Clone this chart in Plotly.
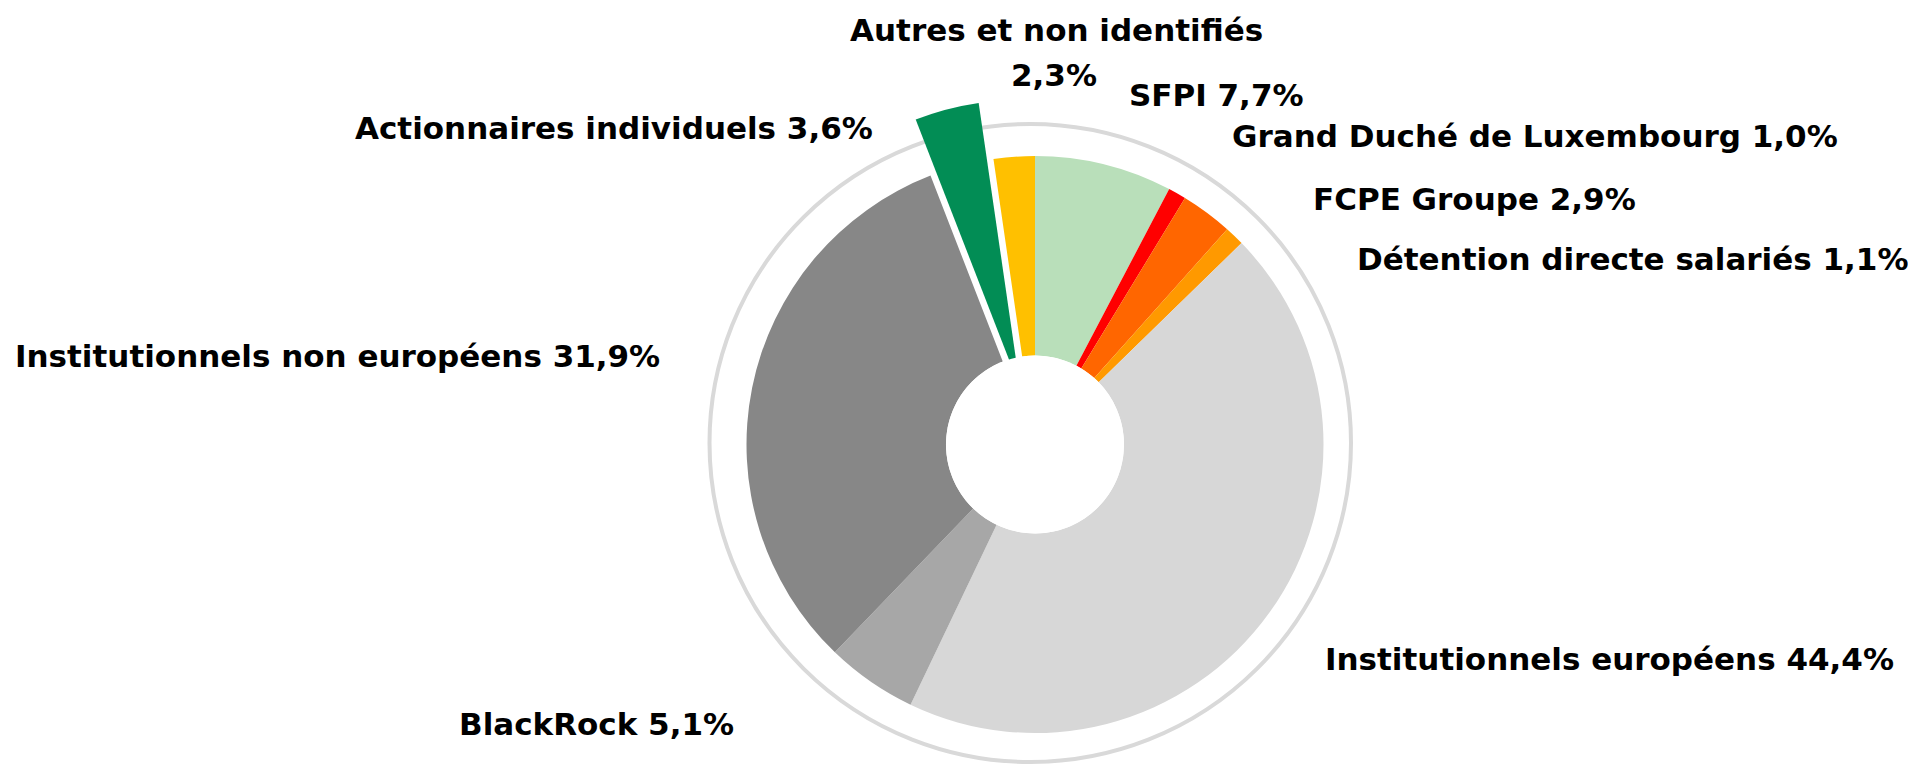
import numpy as np
import plotly.graph_objects as go

# ---------------- data ----------------
categories = [
    "SFPI",
    "Grand Duché de Luxembourg",
    "FCPE Groupe",
    "Détention directe salariés",
    "Institutionnels européens",
    "BlackRock",
    "Institutionnels non européens",
    "Actionnaires individuels",
    "Autres et non identifiés",
]
values = [7.7, 1.0, 2.9, 1.1, 44.4, 5.1, 31.9, 3.6, 2.3]
colors = ["#b9dfba", "#ff0000", "#ff6600", "#ff9900", "#d7d7d7",
          "#a7a7a7", "#878787", "#028d55", "#ffc000"]
pulled_category = "Actionnaires individuels"

# ---------------- layout geometry (page pixels) ----------------
OFF = 8                                 # default body margin of the html page
W, H = 1916 - OFF, 764 - OFF
CX, CY, R = 1035.0, 444.5, 288.5        # pie centre / radius
HOLE_R = 89.0
PULL_PX = 58.0
RING = (709.5, 124, 1351, 762)          # x0, y0, x1, y1 of outer grey ring

# label anchor positions (centre x, centre y in page px)
label_pos = {
    "SFPI": (1216.5, 95.5),
    "Grand Duché de Luxembourg": (1534.5, 136),
    "FCPE Groupe": (1474, 198.5),
    "Détention directe salariés": (1632.5, 259),
    "Institutionnels européens": (1609, 659),
    "BlackRock": (596, 724),
    "Institutionnels non européens": (337, 356),
    "Actionnaires individuels": (613.5, 128),
}
autres_pos = ((1056, 29.5), (1054, 75.3))


def px(x, y):
    return (x - OFF) / W, 1 - (y - OFF) / H


def fmt(v):
    return f"{v:.1f}".replace(".", ",") + "%"


def domain_at(cx, cy, r):
    x0, y1 = px(cx - r, cy - r)
    x1, y0 = px(cx + r, cy + r)
    return dict(x=[x0, x1], y=[y0, y1])


pidx = categories.index(pulled_category)
total = float(np.sum(values))
mid_frac = (np.sum(values[:pidx]) + values[pidx] / 2) / total
ang = 2 * np.pi * mid_frac          # clockwise from 12 o'clock
dx = PULL_PX * np.sin(ang)
dy = -PULL_PX * np.cos(ang)

main_colors = [c if i != pidx else "rgba(0,0,0,0)" for i, c in enumerate(colors)]
pull_colors = [c if i == pidx else "rgba(0,0,0,0)" for i, c in enumerate(colors)]

fig = go.Figure()
fig.add_trace(go.Pie(
    labels=categories, values=values, sort=False, direction="clockwise",
    rotation=0, hole=HOLE_R / R, marker=dict(colors=main_colors, line=dict(width=0)),
    textinfo="none", hoverinfo="label+value", showlegend=False,
    domain=domain_at(CX, CY, R),
))
fig.add_trace(go.Pie(
    labels=categories, values=values, sort=False, direction="clockwise",
    rotation=0, hole=0, marker=dict(colors=pull_colors, line=dict(width=0)),
    textinfo="none", hoverinfo="skip", showlegend=False,
    domain=domain_at(CX + dx, CY + dy, R),
))

# outer ring and hole mask
rx0, ry1 = px(RING[0], RING[1])
rx1, ry0 = px(RING[2], RING[3])
hx0, hy1 = px(CX - HOLE_R, CY - HOLE_R)
hx1, hy0 = px(CX + HOLE_R, CY + HOLE_R)
shapes = [
    dict(type="circle", xref="paper", yref="paper", x0=rx0, x1=rx1, y0=ry0, y1=ry1,
         line=dict(color="#d9d9d9", width=4), fillcolor="rgba(0,0,0,0)", layer="below"),
    dict(type="circle", xref="paper", yref="paper", x0=hx0, x1=hx1, y0=hy0, y1=hy1,
         line=dict(width=0), fillcolor="white", layer="above"),
]

font = dict(family="DejaVu Sans", size=31, color="black", weight="bold")
annotations = []
for cat, v in zip(categories, values):
    if cat in label_pos:
        x, y = px(*label_pos[cat])
        annotations.append(dict(text=f"{cat} {fmt(v)}", x=x, y=y, xref="paper", yref="paper",
                                xanchor="center", yanchor="middle", showarrow=False, font=font))
    else:
        (x1p, y1p), (x2p, y2p) = autres_pos
        a, b = px(x1p, y1p)
        annotations.append(dict(text=cat, x=a, y=b, xref="paper", yref="paper",
                                xanchor="center", yanchor="middle", showarrow=False, font=font))
        a, b = px(x2p, y2p)
        annotations.append(dict(text=fmt(v), x=a, y=b, xref="paper", yref="paper",
                                xanchor="center", yanchor="middle", showarrow=False, font=font))

fig.update_layout(
    width=W, height=H, margin=dict(l=0, r=0, t=0, b=0),
    paper_bgcolor="white", plot_bgcolor="white",
    shapes=shapes, annotations=annotations,
)
fig.write_html("out.html")
